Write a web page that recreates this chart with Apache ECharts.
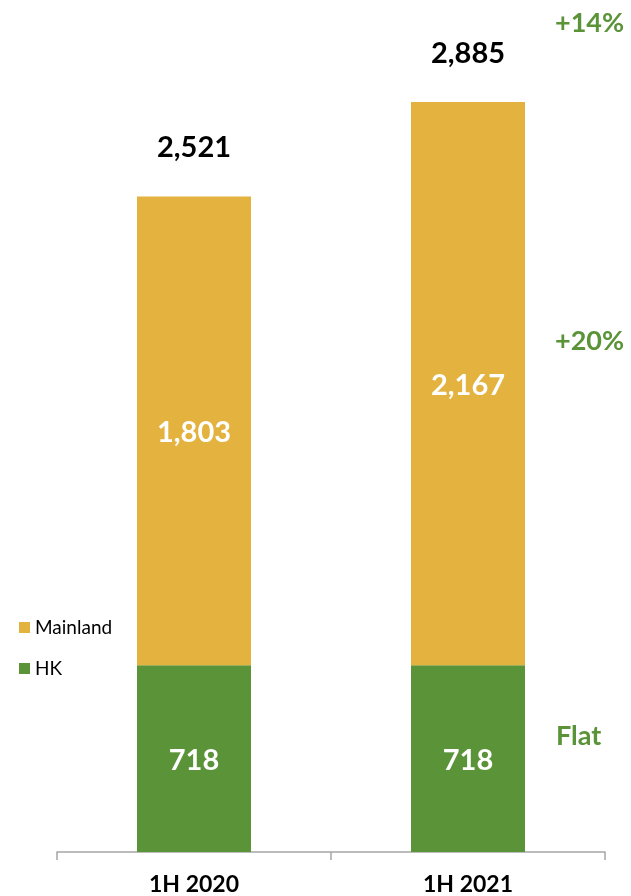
<!DOCTYPE html>
<html><head><meta charset="utf-8">
<script src="https://cdn.jsdelivr.net/npm/echarts@6/dist/echarts.min.js"></script>
<style>html,body{margin:0;padding:0;background:#fff}#c{width:631px;height:896px}</style>
</head><body><div id="c"></div>
<script>
const categories = ['1H 2020', '1H 2021'];
const hkValues = [718, 718];
const mainlandValues = [1803, 2167];
const totals = [2521, 2885];
const changeLabels = ['+14%', '+20%', 'Flat'];

const green = '#5B9339';
const gold = '#E3B23F';
const FONT = 'Lato';

const chart = echarts.init(document.getElementById('c'));
chart.setOption({
  animation: false,
  textStyle: { fontFamily: FONT },
  grid: { left: 57, right: 26, top: 72, bottom: 43 },
  legend: {
    orient: 'vertical', left: 14, top: 613,
    itemWidth: 11, itemHeight: 11, itemGap: 22,
    icon: 'rect',
    data: ['Mainland', 'HK'],
    textStyle: { fontFamily: FONT, fontSize: 19, color: '#000' }
  },
  xAxis: {
    type: 'category', data: categories,
    axisLine: { lineStyle: { color: '#a6a6a6', width: 1.5 } },
    axisTick: { show: true, length: 8, lineStyle: { color: '#a6a6a6', width: 1.5 } },
    axisLabel: { fontFamily: FONT, fontWeight: 'bold', fontSize: 23, color: '#000', margin: 21 }
  },
  yAxis: { type: 'value', min: 0, max: 3000, show: false, splitLine: { show: false } },
  series: [
    {
      name: 'HK', type: 'bar', stack: 't', data: hkValues, barWidth: 114,
      itemStyle: { color: green },
      label: { show: true, position: 'inside', offset: [0, 2], color: '#fff', fontFamily: FONT, fontWeight: 'bold', fontSize: 29 }
    },
    {
      name: 'Mainland', type: 'bar', stack: 't', data: mainlandValues, barWidth: 114,
      itemStyle: { color: gold },
      label: { show: true, position: 'inside', offset: [0, 2], color: '#fff', fontFamily: FONT, fontWeight: 'bold', fontSize: 29,
        formatter: p => p.value.toLocaleString('en-US') }
    },
    {
      name: 'Total', type: 'bar', stack: 't', data: totals.map(() => 0), barWidth: 114,
      itemStyle: { color: 'transparent' },
      label: { show: true, position: 'top', distance: 34, color: '#000', fontFamily: FONT, fontWeight: 'bold', fontSize: 29,
        formatter: p => totals[p.dataIndex].toLocaleString('en-US') }
    }
  ],
  graphic: [
    { type: 'text', left: 555, top: 10, style: { text: changeLabels[0], fill: green, font: 'bold 27px ' + FONT } },
    { type: 'text', left: 555, top: 328, style: { text: changeLabels[1], fill: green, font: 'bold 27px ' + FONT } },
    { type: 'text', left: 556, top: 723, style: { text: changeLabels[2], fill: green, font: 'bold 27px ' + FONT } }
  ]
});
</script></body></html>
